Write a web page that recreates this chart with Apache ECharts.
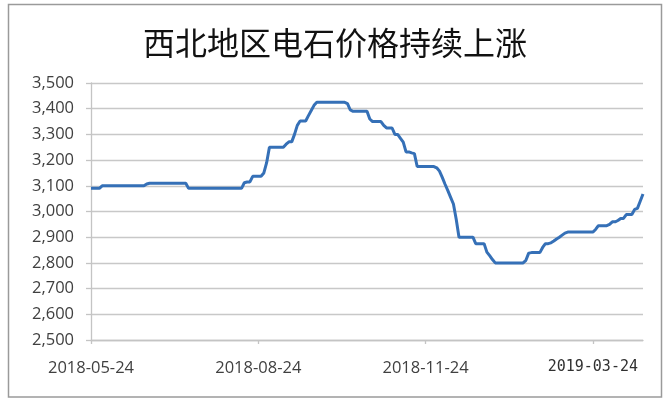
<!DOCTYPE html>
<html>
<head>
<meta charset="utf-8">
<script src="https://cdn.jsdelivr.net/npm/echarts@6/dist/echarts.min.js"></script>
<style>
html,body{margin:0;padding:0;background:#fff;}
#chart{width:670px;height:403px;}
</style>
</head>
<body>
<div id="chart"></div>
<script>
const titleText = '西北地区电石价格持续上涨';
const tickLabels = ['2018-05-24', '2018-08-24', '2018-11-24', '2019-03-24'];
const tickIndex = [0, 60, 120, 180];
const yTicks = { min: 2500, max: 3500, step: 100 };
const prices = [
  3090, 3090, 3090, 3090, 3100, 3100, 3100, 3100, 3100, 3100,
  3100, 3100, 3100, 3100, 3100, 3100, 3100, 3100, 3100, 3100,
  3107, 3110, 3110, 3110, 3110, 3110, 3110, 3110, 3110, 3110,
  3110, 3110, 3110, 3110, 3110, 3090, 3090, 3090, 3090, 3090,
  3090, 3090, 3090, 3090, 3090, 3090, 3090, 3090, 3090, 3090,
  3090, 3090, 3090, 3090, 3090, 3112, 3115, 3115, 3137, 3137,
  3137, 3137, 3150, 3190, 3250, 3250, 3250, 3250, 3250, 3250,
  3262, 3271, 3271, 3300, 3335, 3352, 3352, 3352, 3373, 3393,
  3413, 3425, 3425, 3425, 3425, 3425, 3425, 3425, 3425, 3425,
  3425, 3425, 3420, 3395, 3390, 3390, 3390, 3390, 3390, 3390,
  3360, 3350, 3350, 3350, 3350, 3335, 3325, 3325, 3325, 3300,
  3300, 3285, 3270, 3232, 3232, 3228, 3225, 3175, 3175, 3175,
  3175, 3175, 3175, 3175, 3170, 3157, 3133, 3106, 3081, 3055,
  3029, 2970, 2900, 2900, 2900, 2900, 2900, 2900, 2875, 2875,
  2875, 2875, 2842, 2828, 2813, 2800, 2800, 2800, 2800, 2800,
  2800, 2800, 2800, 2800, 2800, 2800, 2810, 2838, 2840, 2840,
  2840, 2840, 2860, 2875, 2875, 2878, 2885, 2893, 2900, 2908,
  2916, 2920, 2920, 2920, 2920, 2920, 2920, 2920, 2920, 2920,
  2920, 2930, 2945, 2945, 2945, 2945, 2950, 2960, 2960, 2965,
  2973, 2973, 2988, 2988, 2988, 3008, 3012, 3040, 3068
];

const tickMap = {};
tickIndex.forEach((idx, k) => { tickMap[idx] = tickLabels[k]; });
const categories = prices.map((_, i) => tickMap[i] !== undefined ? tickMap[i] : ('p' + i));
const isTick = (i) => tickMap[i] !== undefined;

const chart = echarts.init(document.getElementById('chart'), null, { renderer: 'canvas' });
chart.setOption({
  backgroundColor: '#ffffff',
  animation: false,
  title: {
    text: titleText,
    left: 'center',
    top: 22,
    textStyle: {
      fontFamily: 'Noto Sans CJK SC',
      fontSize: 32,
      fontWeight: 'normal',
      color: '#111111'
    }
  },
  graphic: [{
    type: 'rect',
    shape: { x: 8.5, y: 4.5, width: 653, height: 392.5 },
    style: { fill: 'none', stroke: '#9a9a9a', lineWidth: 1.5 },
    silent: true
  }],
  grid: { left: 91, right: 27, top: 83, bottom: 63 },
  xAxis: {
    type: 'category',
    boundaryGap: false,
    data: categories,
    axisLine: { show: true, lineStyle: { color: '#c4c4c4', width: 1.3 } },
    axisTick: { show: true, length: 4, interval: (i) => isTick(i), lineStyle: { color: '#c4c4c4', width: 1.3 } },
    axisLabel: {
      interval: (i) => isTick(i),
      margin: 20,
      fontFamily: 'Open Sans',
      fontSize: 16.5,
      color: '#404040',
      formatter: (v) => v === '2019-03-24' ? '{m|' + v + '}' : v,
      rich: {
        m: { fontFamily: 'DejaVu Sans Mono', fontSize: 15, color: '#303030' }
      }
    },
    splitLine: { show: false }
  },
  yAxis: {
    type: 'value',
    min: yTicks.min,
    max: yTicks.max,
    interval: yTicks.step,
    axisLine: { show: true, lineStyle: { color: '#c4c4c4', width: 1.3 } },
    axisTick: { show: true, length: 5, lineStyle: { color: '#c4c4c4', width: 1.3 } },
    axisLabel: {
      margin: 17,
      fontFamily: 'Open Sans',
      fontSize: 16.5,
      color: '#404040',
      formatter: (v) => v.toLocaleString('en-US')
    },
    splitLine: { show: true, lineStyle: { color: '#c8c8c8', width: 1.3 } }
  },
  series: [{
    type: 'line',
    data: prices,
    showSymbol: false,
    symbol: 'none',
    lineStyle: { color: '#3570b7', width: 3 },
    itemStyle: { color: '#3570b7' }
  }]
});
</script>
</body>
</html>
